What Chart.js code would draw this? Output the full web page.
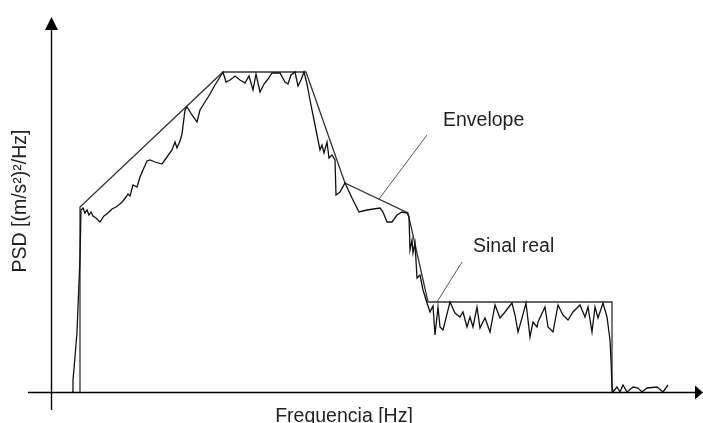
<!DOCTYPE html>
<html>
<head>
<meta charset="utf-8">
<script src="https://cdn.jsdelivr.net/npm/chart.js"></script>
<style>
  body { margin: 0; background: #fff; }
  canvas { display: block; }
</style>
</head>
<body>
<canvas id="psd_chart" width="703" height="423"></canvas>
<script>
// envelope (straight segments)
const envelope_freq = [29, 29, 172, 255, 294, 357, 377, 561, 561];
const envelope_psd  = [0, 185, 320, 320, 209, 179, 90, 90, 0];

const real_freq = [21, 22, 22, 24, 26, 27, 29, 30, 32, 34, 36, 38, 40, 42, 45, 49, 53, 57, 61, 65, 69, 72, 75, 77, 79, 82, 86, 89, 92, 96, 99, 104, 111, 116, 121, 124, 126, 129, 131, 134, 136, 141, 146, 149, 154, 159, 164, 169, 172,
  175, 179, 184, 189, 194, 198, 202, 205, 209, 213, 217, 221, 229, 234, 237, 240, 244, 247, 250, 253, 256,
  259, 264, 269, 271, 273, 276, 278, 281, 284, 285, 289, 294, 301, 308, 316, 329, 332, 336, 341, 346, 351, 356, 358,
  359, 361, 362, 364, 366, 369, 372, 376, 379, 382, 384, 387, 389, 392, 399, 404, 409, 412, 416, 419, 422, 426, 429, 434, 439, 444, 449, 454, 457, 461, 464, 467, 471, 475, 479, 482, 486, 487, 494, 497, 502, 507, 512, 517, 522, 529, 534, 537, 541, 544, 547, 552, 556,
  559, 560, 561, 562, 566, 569, 572, 576, 582, 587, 591, 596, 606, 612, 617];
const real_psd = [0, 0, 12, 35, 60, 85, 134, 182, 184, 179, 182, 177, 180, 176, 174, 170, 176, 179, 183, 185, 188, 191, 195, 198, 196, 207, 205, 215, 222, 231, 232, 230, 228, 235, 242, 250, 244, 251, 258, 282, 285, 277, 270, 282, 290, 298, 307, 315, 320,
  310, 312, 316, 312, 309, 316, 302, 318, 300, 308, 313, 319, 319, 310, 308, 317, 320, 306, 312, 320, 308,
  292, 267, 242, 247, 239, 250, 234, 237, 232, 197, 200, 209, 194, 180, 182, 184, 180, 170, 170, 177, 180, 179, 175,
  142, 152, 139, 149, 114, 117, 102, 89, 80, 86, 57, 85, 65, 62, 90, 79, 75, 80, 65, 75, 65, 85, 64, 74, 60, 87, 74, 80, 84, 89, 77, 60, 74, 89, 55, 70, 65, 70, 85, 65, 60, 87, 77, 72, 80, 87, 75, 85, 60, 85, 74, 89, 75,
  52, 32, 5, 0, 5, 0, 7, 0, 5, 4, 0, 4, 5, 0, 7];

// pointer lines for the two notes
const envelope_pointer_freq = [376, 328];
const envelope_pointer_psd  = [257, 193];
const real_pointer_freq = [411, 386];
const real_pointer_psd  = [130, 90];

const note_texts = ['Envelope', 'Sinal real'];
const note_freq  = [392, 422];
const note_psd   = [271, 145];

const x_title = 'Frequencia [Hz]';
const y_title = 'PSD [(m/s\u00b2)\u00b2/Hz]';

function to_points(xs, ys) {
    return xs.map((x, i) => ({x: x, y: ys[i]}));
}

// draws the arrowed axes, the notes and the axis titles
const axes_plugin = {
    id: 'axes_plugin',
    afterDatasetsDraw(chart) {
        const ctx = chart.ctx;
        const area = chart.chartArea;
        const xs = chart.scales.x;
        const ys = chart.scales.y;
        const x0 = Math.round(xs.getPixelForValue(0)) + 0.5;
        const y0 = Math.round(ys.getPixelForValue(0)) + 0.5;
        ctx.save();
        ctx.strokeStyle = '#000';
        ctx.fillStyle = '#000';
        ctx.lineWidth = 1.4;
        ctx.beginPath();
        ctx.moveTo(area.left, y0);
        ctx.lineTo(area.right - 4, y0);
        ctx.moveTo(x0, area.bottom);
        ctx.lineTo(x0, area.top + 4);
        ctx.stroke();
        // arrow heads
        ctx.beginPath();
        ctx.moveTo(x0, area.top);
        ctx.lineTo(x0 - 6.5, area.top + 13);
        ctx.lineTo(x0 + 6.5, area.top + 13);
        ctx.closePath();
        ctx.fill();
        ctx.beginPath();
        ctx.moveTo(area.right, y0);
        ctx.lineTo(area.right - 8, y0 - 7);
        ctx.lineTo(area.right - 8, y0 + 7);
        ctx.closePath();
        ctx.fill();

        ctx.fillStyle = '#222';
        ctx.font = '19.5px "Liberation Sans", Arial, sans-serif';
        ctx.textBaseline = 'middle';
        ctx.textAlign = 'left';
        note_texts.forEach((t, i) => {
            ctx.fillText(t, xs.getPixelForValue(note_freq[i]), ys.getPixelForValue(note_psd[i]));
        });
        ctx.textAlign = 'center';
        ctx.textBaseline = 'alphabetic';
        ctx.fillText(x_title, 344, 422);
        ctx.translate(21, 201);
        ctx.rotate(-Math.PI / 2);
        ctx.textBaseline = 'middle';
        ctx.fillText(y_title, 0, 0);
        ctx.restore();
    }
};

function add_chart() {
    const ctx = document.getElementById('psd_chart');
    new Chart(ctx, {
        type: 'line',
        data: {
            datasets: [{
                label: 'Sinal real',
                data: to_points(real_freq, real_psd),
                borderColor: '#111',
                borderWidth: 1.3
            }, {
                label: 'Envelope',
                data: to_points(envelope_freq, envelope_psd),
                borderColor: '#333',
                borderWidth: 1.3
            }, {
                label: 'envelope pointer',
                data: to_points(envelope_pointer_freq, envelope_pointer_psd),
                borderColor: '#555',
                borderWidth: 1
            }, {
                label: 'real pointer',
                data: to_points(real_pointer_freq, real_pointer_psd),
                borderColor: '#555',
                borderWidth: 1
            }]
        },
        options: {
            responsive: false,
            animation: false,
            events: [],
            elements: {
                point: { radius: 0 },
                line: { tension: 0, fill: false }
            },
            layout: { padding: { left: 28, right: 0, top: 17, bottom: 13 } },
            plugins: {
                legend: { display: false },
                tooltip: { enabled: false }
            },
            scales: {
                x: { type: 'linear', min: -23, max: 652, display: false },
                y: { type: 'linear', min: -18, max: 375, display: false }
            }
        },
        plugins: [axes_plugin]
    });
}

add_chart();
</script>
</body>
</html>
